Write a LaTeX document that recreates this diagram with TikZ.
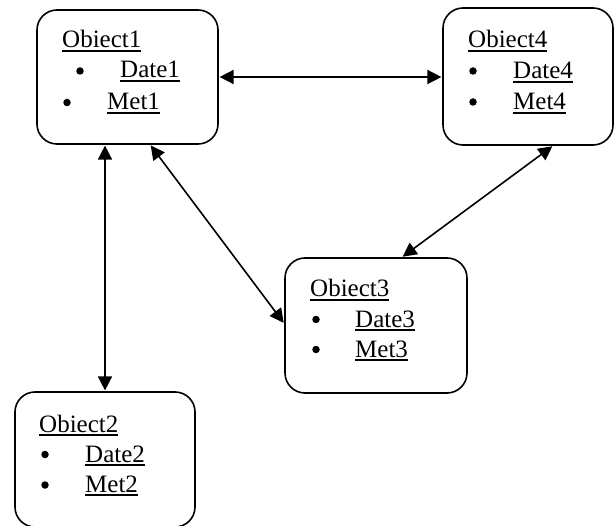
\documentclass[tikz,border=0pt]{standalone}
\usepackage{fontspec}
\setmainfont{Liberation Serif}
\usetikzlibrary{arrows.meta}
\tikzset{
  obj/.style={draw, line width=1.6pt, rounded corners=20pt, inner sep=0pt},
  txt/.style={anchor=base west, inner sep=0pt, font=\fontsize{25}{30}\selectfont},
  bul/.style={circle, fill=black, inner sep=0pt, minimum size=7.5pt},
  link/.style={line width=1.6pt, {Triangle[length=14pt,width=14pt]}-{Triangle[length=14pt,width=14pt]}, shorten <=0.8pt, shorten >=0.8pt}
}
\newcommand\ulx[1]{\setbox0\hbox{#1}\rlap{\rule[-4pt]{\wd0}{1.6pt}}\box0}
\begin{document}
\begin{tikzpicture}[x=1pt,y=-1pt]
\useasboundingbox (0,0) rectangle (615,526);
% boxes
\node[obj, minimum width=181pt, minimum height=134pt] (b1) at (127.5,77) {};
\node[obj, minimum width=170pt, minimum height=137pt] (b4) at (528,76.5) {};
\node[obj, minimum width=182pt, minimum height=135pt] (b3) at (376,325.5) {};
\node[obj, minimum width=180pt, minimum height=135pt] (b2) at (105,459.5) {};
% box 1 text
\node[txt] (t1) at (62,48) {\ulx{Obiect1}};
\node[bul] (t1b1) at (80,71) {};
\node[txt] (t1a) at (120,78) {\ulx{Date1}};
\node[bul] (t1b2) at (67,102.5) {};
\node[txt] (t1m) at (107,110) {\ulx{Met1}};
% box 4 text
\node[txt] (t4) at (468,48) {\ulx{Obiect4}};
\node[bul] (t4b1) at (473,71) {};
\node[txt] (t4a) at (513,79) {\ulx{Date4}};
\node[bul] (t4b2) at (473,102) {};
\node[txt] (t4m) at (513,110) {\ulx{Met4}};
% box 3 text
\node[txt] (t3) at (310,297) {\ulx{Obiect3}};
\node[bul] (t3b1) at (316,319.5) {};
\node[txt] (t3a) at (355,327) {\ulx{Date3}};
\node[bul] (t3b2) at (316,349.5) {};
\node[txt] (t3m) at (355,357) {\ulx{Met3}};
% box 2 text
\node[txt] (t2) at (39,432) {\ulx{Obiect2}};
\node[bul] (t2b1) at (45,454.5) {};
\node[txt] (t2a) at (85,462) {\ulx{Date2}};
\node[bul] (t2b2) at (45,485) {};
\node[txt] (t2m) at (85,492) {\ulx{Met2}};
% connectors
\draw[link] (b1.east) -- (b1.east -| b4.west);
\draw[link] (b2.north |- b1.south) -- (b2.north);
\draw[link] ([xshift=114pt]b1.south west) -- ([yshift=2pt]b3.west);
\draw[link] ([xshift=25pt]b4.south) -- ([xshift=26pt]b3.north);
\end{tikzpicture}
\end{document}
